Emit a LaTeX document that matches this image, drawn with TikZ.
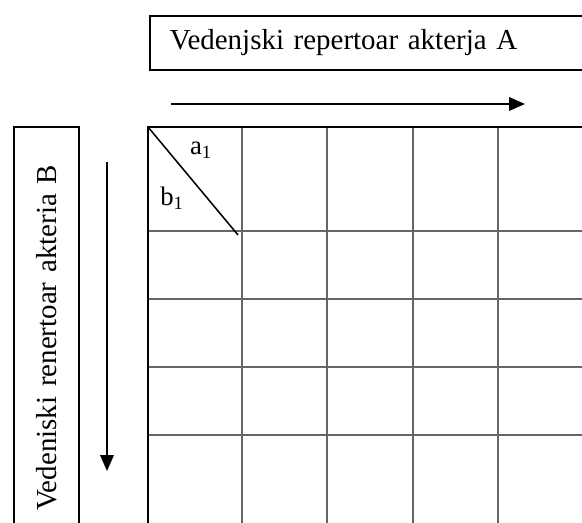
\documentclass[tikz,border=0pt]{standalone}
\usepackage{fontspec}
\setmainfont{Liberation Serif}
\usetikzlibrary{arrows.meta}
\tikzstyle{labelbox}=[draw, line width=1.1pt, inner ysep=0pt, font=\fontsize{20.6}{24}\selectfont, align=left]
\tikzstyle{gridline}=[line width=0.8pt, black!60]
\tikzstyle{borderline}=[line width=1.1pt]
\tikzstyle{axisarrow}=[line width=1.3pt, -{Triangle[length=0.4cm, width=0.34cm]}]
\tikzstyle{entry}=[inner sep=0pt, font=\fontsize{19}{22}\selectfont]

\begin{document}
\begin{tikzpicture}[x=0.025cm, y=-0.025cm]
    \useasboundingbox (0,0) rectangle (582,523);
    \clip (0,0) rectangle (582,523);
    \node[labelbox, anchor=north west, minimum width=11.5cm, minimum height=1.35cm, text width=10.5cm, inner xsep=0.5cm] (actorA) at (149,15) {Vedenjski repertoar akterja A};
    \node[labelbox, rotate=90, anchor=north east, minimum width=10.35cm, minimum height=1.625cm, text width=8.85cm, inner xsep=0.75cm] (actorB) at (13,126) {Vedeniski renertoar akteria B};
    \coordinate (arrowAstart) at (171,104);
    \coordinate (arrowAend) at (525,104);
    \coordinate (arrowBstart) at (107,162);
    \coordinate (arrowBend) at (107,471);
    \draw[axisarrow] (arrowAstart) -- (arrowAend);
    \draw[axisarrow] (arrowBstart) -- (arrowBend);
    \coordinate (corner) at (148,127);
    \coordinate (diagend) at (238,235);
    \draw[gridline] (242,127) -- (242,530);
    \draw[gridline] (327,127) -- (327,530);
    \draw[gridline] (413,127) -- (413,530);
    \draw[gridline] (498,127) -- (498,530);
    \draw[gridline] (148,231) -- (590,231);
    \draw[gridline] (148,299) -- (590,299);
    \draw[gridline] (148,367) -- (590,367);
    \draw[gridline] (148,435) -- (590,435);
    \draw[borderline] (148,530) -- (corner) -- (590,127);
    \draw[borderline] (corner) -- (diagend);
    \node[entry] (a1) at (201,150) {a\textsubscript{1}};
    \node[entry] (b1) at (172,198) {b\textsubscript{1}};
\end{tikzpicture}
\end{document}
